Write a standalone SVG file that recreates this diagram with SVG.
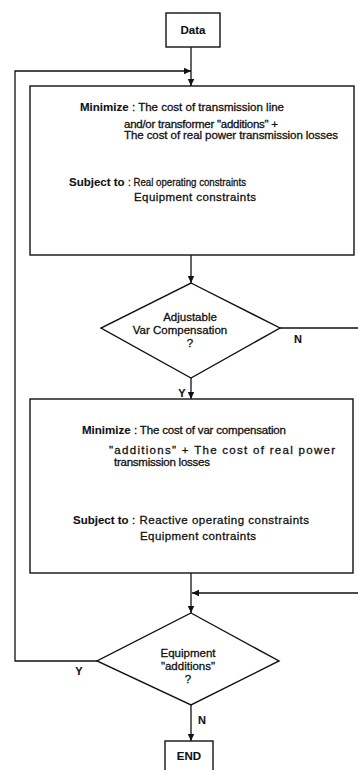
<svg xmlns="http://www.w3.org/2000/svg" width="358" height="770" viewBox="0 0 358 770">
<defs>
<marker id="ah" markerWidth="8" markerHeight="8" refX="7" refY="4" orient="auto" markerUnits="userSpaceOnUse">
<path d="M0,0.8 L7,4 L0,7.2 Z" fill="#111"/>
</marker>
<style>
.box{fill:#fff;stroke:#111;stroke-width:1.4}
.ln{fill:none;stroke:#111;stroke-width:1.3}
text{font-family:"Liberation Sans",Arial,sans-serif;font-size:11.5px;fill:#111;stroke:#111;stroke-width:0.3}
.b{font-weight:bold;stroke-width:0.1}
.c{text-anchor:middle}
.lbl{font-weight:bold;font-size:11px;stroke-width:0.1}
</style>
</defs>
<rect width="358" height="770" fill="#fff"/>
<g id="connectors">
<path class="ln" d="M191,47 V86" marker-end="url(#ah)"/>
<path class="ln" d="M97,661 H15 V71 H191" marker-end="url(#ah)"/>
<path class="ln" d="M191,255 V283" marker-end="url(#ah)"/>
<path class="ln" d="M280,328 H358"/>
<path class="ln" d="M191,378 V399" marker-end="url(#ah)"/>
<path class="ln" d="M191,573 V613" marker-end="url(#ah)"/>
<path class="ln" d="M358,593 H192" marker-end="url(#ah)"/>
<path class="ln" d="M191,705 V741" marker-end="url(#ah)"/>
<text class="lbl" x="298" y="343" text-anchor="middle">N</text>
<text class="lbl" x="182" y="397" text-anchor="middle">Y</text>
<text class="lbl" x="79" y="675" text-anchor="middle">Y</text>
<text class="lbl" x="202" y="724" text-anchor="middle">N</text>
</g>
<g id="data">
<rect class="box" x="166" y="13" width="54" height="34"/>
<text class="c b" x="193" y="34">Data</text>
</g>
<g id="minimize1">
<rect class="box" x="30" y="86" width="324" height="169"/>
<text class="b" x="80" y="111">Minimize</text>
<text x="132" y="111" textLength="152" lengthAdjust="spacing">: The cost of transmission line</text>
<text x="124" y="128" textLength="154" lengthAdjust="spacing">and/or transformer "additions"  +</text>
<text x="124" y="139" textLength="214" lengthAdjust="spacing">The cost of real power transmission losses</text>
<text class="b" x="69" y="186">Subject to</text>
<text x="128" y="186" textLength="118" lengthAdjust="spacingAndGlyphs">: Real operating constraints</text>
<text x="134" y="201" textLength="122" lengthAdjust="spacing">Equipment constraints</text>
</g>
<g id="decision1">
<polygon class="box" points="191,283 280,328 191,378 101,328"/>
<text class="c" x="190" y="321">Adjustable</text>
<text class="c" x="180" y="334">Var Compensation</text>
<text class="c" x="190" y="347">?</text>
</g>
<g id="minimize2">
<rect class="box" x="30" y="399" width="323" height="174"/>
<text class="b" x="82" y="434">Minimize</text>
<text x="134" y="434" textLength="152" lengthAdjust="spacing">: The cost of var compensation</text>
<text x="109" y="454" textLength="226" lengthAdjust="spacing">"additions"  +  The cost of real power</text>
<text x="114" y="466" textLength="96" lengthAdjust="spacing">transmission losses</text>
<text class="b" x="73" y="524">Subject to</text>
<text x="132" y="524" textLength="177" lengthAdjust="spacing">: Reactive  operating constraints</text>
<text x="140" y="540" textLength="116" lengthAdjust="spacing">Equipment contraints</text>
</g>
<g id="decision2">
<polygon class="box" points="191,613 279,661 191,705 97,661"/>
<text class="c" x="188" y="657">Equipment</text>
<text class="c" x="188" y="670">"additions"</text>
<text class="c" x="188" y="683">?</text>
</g>
<g id="end">
<rect class="box" x="165" y="741" width="48" height="40"/>
<text class="c b" x="189" y="760">END</text>
</g>
</svg>
